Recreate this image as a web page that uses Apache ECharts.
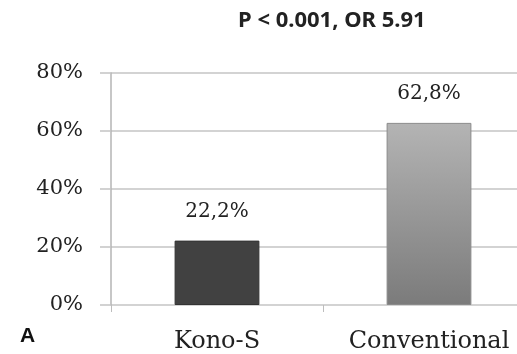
<!DOCTYPE html>
<html>
<head>
<meta charset="utf-8">
<script src="https://cdn.jsdelivr.net/npm/echarts@6/dist/echarts.min.js"></script>
<style>
  html, body { margin: 0; padding: 0; background: #fff; overflow: hidden; }
  /* the plot runs past the right edge of the window, so the canvas is wider than the view */
  #chart { width: 535px; height: 354px; }
</style>
</head>
<body>
<div id="chart"></div>
<script>
// Groups and their rates (%)
const categories = ['Kono-S', 'Conventional'];
const rates = [22.2, 62.8];
const rateLabels = ['22,2%', '62,8%'];
const yTicks = [0, 20, 40, 60, 80];

const serif = '"DejaVu Serif", "Liberation Serif", serif';

const barStyles = [
  { color: '#414141', borderColor: '#333333', borderWidth: 1 },
  {
    color: new echarts.graphic.LinearGradient(0, 0, 0, 1, [
      { offset: 0, color: '#b4b4b4' },
      { offset: 1, color: '#7b7b7b' }
    ]),
    borderColor: '#8a8a8a', borderWidth: 1
  }
];

const chart = echarts.init(document.getElementById('chart'), null, { renderer: 'canvas' });
chart.setOption({
  animation: false,
  backgroundColor: '#ffffff',
  title: {
    text: 'P < 0.001, OR 5.91',
    left: 233, top: 5,
    textStyle: { fontFamily: '"Noto Sans", sans-serif', fontWeight: 'bold', fontSize: 22, color: '#222' }
  },
  graphic: [{
    type: 'text', left: 20, top: 326,
    style: {
      text: 'A', fontFamily: '"Liberation Sans", Arial, sans-serif',
      fontWeight: 'bold', fontSize: 21, fill: '#111'
    }
  }],
  grid: { left: 111, right: 0, top: 73, bottom: 49, containLabel: false },
  xAxis: {
    type: 'category',
    data: categories,
    axisLine: { show: false },
    axisTick: { show: true, alignWithLabel: false, length: 7, lineStyle: { color: '#bdbdbd', width: 1 } },
    axisLabel: { fontFamily: serif, fontSize: 24, color: '#222', margin: 25 }
  },
  yAxis: {
    type: 'value',
    min: yTicks[0], max: yTicks[yTicks.length - 1], interval: 20,
    axisLine: { show: true, lineStyle: { color: '#b5b5b5', width: 1.5 } },
    axisTick: { show: true, length: 11, lineStyle: { color: '#c4c4c4', width: 1.5 } },
    splitLine: { show: true, lineStyle: { color: '#c4c4c4', width: 1.5 } },
    axisLabel: {
      fontFamily: serif, fontSize: 21, color: '#222', margin: 28,
      formatter: v => v + '%'
    }
  },
  series: [{
    type: 'bar',
    barWidth: '40%',
    data: rates.map((v, i) => ({
      value: v,
      itemStyle: barStyles[i],
      label: { formatter: rateLabels[i] }
    })),
    label: {
      show: true, position: 'top', distance: 19,
      fontFamily: serif, fontSize: 20, color: '#222'
    }
  }]
});
</script>
</body>
</html>
